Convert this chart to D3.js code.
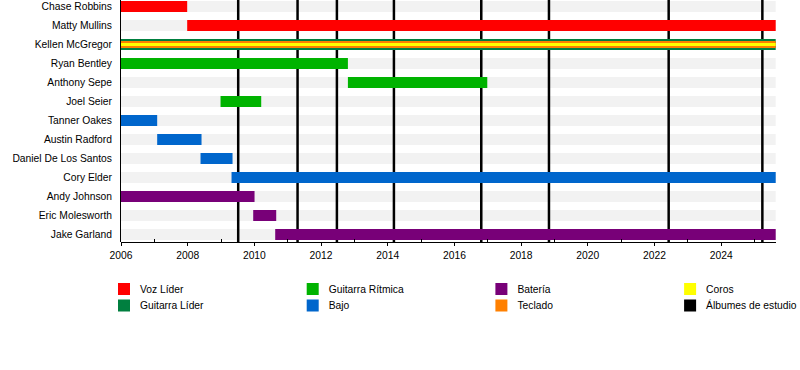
<!DOCTYPE html>
<meta charset="utf-8">
<html>
<head>
<title>Memphis May Fire timeline</title>
<script src="https://d3js.org/d3.v7.min.js"></script>
<style>
  html, body { margin: 0; background: #fff; }
  svg { font-family: "Liberation Sans", Arial, sans-serif; font-size: 10.3px; }
  .axis path, .axis line { stroke: #000; shape-rendering: crispEdges; }
</style>
</head>
<body>
<div id="chart"></div>
<script>
// members, top to bottom
var members = ["Chase Robbins", "Matty Mullins", "Kellen McGregor", "Ryan Bentley",
  "Anthony Sepe", "Joel Seier", "Tanner Oakes", "Austin Radford",
  "Daniel De Los Santos", "Cory Elder", "Andy Johnson", "Eric Molesworth", "Jake Garland"];

// roles and their colours (legend order)
var roles = ["Voz Líder", "Guitarra Líder", "Guitarra Rítmica", "Bajo", "Batería", "Teclado", "Coros", "Álbumes de estudio"];
var roleColors = ["#ff0000", "#007f3f", "#00b300", "#0066cc", "#780078", "#ff8000", "#ffff00", "#000000"];

var endDate = 2025.65;

// [member, role, start, end, bar width]
var spans = [
  ["Chase Robbins", "Voz Líder", 2006, 2008.0, 11],
  ["Matty Mullins", "Voz Líder", 2008.0, endDate, 11],
  ["Kellen McGregor", "Guitarra Líder", 2006, endDate, 11],
  ["Kellen McGregor", "Teclado", 2006, endDate, 7],
  ["Kellen McGregor", "Coros", 2006, endDate, 3],
  ["Ryan Bentley", "Guitarra Rítmica", 2006, 2012.82, 11],
  ["Anthony Sepe", "Guitarra Rítmica", 2012.82, 2017.0, 11],
  ["Joel Seier", "Guitarra Rítmica", 2009.0, 2010.22, 11],
  ["Tanner Oakes", "Bajo", 2006, 2007.1, 11],
  ["Austin Radford", "Bajo", 2007.1, 2008.43, 11],
  ["Daniel De Los Santos", "Bajo", 2008.4, 2009.36, 11],
  ["Cory Elder", "Bajo", 2009.33, endDate, 11],
  ["Andy Johnson", "Batería", 2006, 2010.02, 11],
  ["Eric Molesworth", "Batería", 2009.98, 2010.67, 11],
  ["Jake Garland", "Batería", 2010.64, endDate, 11]
];

// studio album release dates
var albums = [2009.53, 2011.31, 2012.49, 2014.2, 2016.82, 2018.85, 2022.44, 2025.25];

var majorTicks = [2006, 2008, 2010, 2012, 2014, 2016, 2018, 2020, 2022, 2024];
var minorTicks = d3.range(2007, 2026, 2);

var width = 800, height = 370;
var plotLeft = 120.5, plotRight = 775.7, axisY = 242;

var svg = d3.select("#chart").append("svg")
  .attr("width", width).attr("height", height);

var x = d3.scaleLinear().domain([2006, endDate]).range([plotLeft, plotRight]);
var y = d3.scalePoint().domain(members).range([6.5, 234.5]);
var color = d3.scaleOrdinal().domain(roles).range(roleColors);

// grey background bands
svg.selectAll(".band")
  .data(members).enter().append("rect")
  .attr("x", plotLeft).attr("width", plotRight - plotLeft)
  .attr("y", function(d) { return y(d) - 5.5; })
  .attr("height", 11)
  .attr("fill", "#f2f2f2");

// album lines
svg.selectAll(".album")
  .data(albums).enter().append("line")
  .attr("x1", function(d) { return x(d); }).attr("x2", function(d) { return x(d); })
  .attr("y1", 0).attr("y2", axisY)
  .attr("stroke", "#000").attr("stroke-width", 2.5);

// member bars
svg.selectAll(".bar")
  .data(spans).enter().append("rect")
  .attr("x", function(d) { return x(d[2]); })
  .attr("width", function(d) { return x(d[3]) - x(d[2]); })
  .attr("y", function(d) { return y(d[0]) - d[4] / 2; })
  .attr("height", function(d) { return d[4]; })
  .attr("fill", function(d) { return color(d[1]); });

// names
svg.selectAll(".name")
  .data(members).enter().append("text")
  .attr("x", 112).attr("y", function(d) { return y(d); })
  .attr("dy", "0.35em")
  .attr("text-anchor", "end")
  .attr("fill", "#000")
  .text(function(d) { return d; });

// left axis line
svg.append("line")
  .attr("x1", plotLeft).attr("x2", plotLeft)
  .attr("y1", 0).attr("y2", axisY)
  .attr("stroke", "#000").attr("shape-rendering", "crispEdges");

// bottom axis: majors below, minors above
var xAxis = svg.append("g").attr("class", "axis")
  .attr("transform", "translate(0," + axisY + ")")
  .call(d3.axisBottom(x).tickValues(majorTicks).tickFormat(d3.format("d")).tickSize(4).tickSizeOuter(0));
xAxis.selectAll("text").attr("font-size", 10.3).attr("font-family", "Liberation Sans, Arial, sans-serif").attr("dy", "1em");

svg.append("g").attr("class", "axis")
  .attr("transform", "translate(0," + axisY + ")")
  .call(d3.axisTop(x).tickValues(minorTicks).tickFormat("").tickSize(3).tickSizeOuter(0))
  .select(".domain").remove();

// legend, column-wise, 2 rows
var legend = svg.selectAll(".legend")
  .data(roles).enter().append("g")
  .attr("transform", function(d, i) {
    return "translate(" + (118 + Math.floor(i / 2) * 188.7) + "," + (283 + (i % 2) * 16.5) + ")";
  });
legend.append("rect").attr("width", 12).attr("height", 12)
  .attr("fill", function(d) { return color(d); });
legend.append("text").attr("x", 22).attr("y", 6).attr("dy", "0.35em")
  .text(function(d) { return d; });
</script>
</body>
</html>
